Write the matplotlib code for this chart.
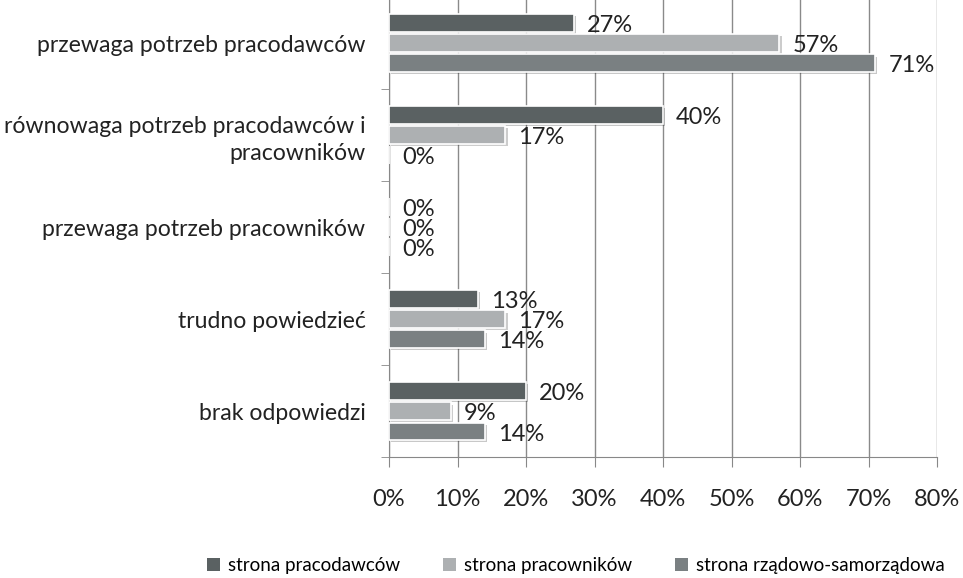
import numpy as np
import matplotlib.pyplot as plt
import matplotlib.patheffects as pe

plt.rcParams['font.family'] = ['Lato', 'DejaVu Sans']

# dane
kategorie = ['przewaga potrzeb pracodawców',
             'równowaga potrzeb pracodawców i\npracowników',
             'przewaga potrzeb pracowników',
             'trudno powiedzieć',
             'brak odpowiedzi']
serie = ['strona pracodawców', 'strona pracowników', 'strona rządowo-samorządowa']
pracodawcy = [27, 40, 0, 13, 20]
pracownicy = [57, 17, 0, 17, 9]
rzadowo = [71, 0, 0, 14, 14]
kolory = ['#5a6162', '#adb0b2', '#7a8082']

fig = plt.figure(figsize=(9.63, 5.78), dpi=100)
ax = fig.add_axes([0.404, 0.209, 0.569, 0.796])

n = len(kategorie)
y = np.arange(n)
h = 0.19
offs = [-0.218, 0, 0.218]
for vals, off, c, lab in zip([pracodawcy, pracownicy, rzadowo], offs, kolory, serie):
    bars = ax.barh(y + off, vals, height=h, color=c, edgecolor='white', linewidth=1.2,
                   label=lab, zorder=3)
    for b in bars:
        b.set_path_effects([pe.SimplePatchShadow(offset=(1.5, -1.5), alpha=0.25), pe.Normal()])
    for yi, v in zip(y + off, vals):
        ax.text(v + 1.9, yi + 0.03, f'{v}%', va='center', ha='left', fontsize=17,
                color='#222222', zorder=4)

ax.set_ylim(n - 0.5, -0.5)
ax.set_xlim(0, 80)
ax.set_xticks(np.arange(0, 81, 10))
ax.set_xticklabels([f'{t}%' for t in range(0, 81, 10)], fontsize=17, color='#222222')
ax.set_yticks(y)
ax.set_yticklabels(kategorie, fontsize=16.6, color='#222222', ha='right', linespacing=1.35)
ax.set_yticks(np.arange(-0.5, n, 1), minor=True)
ax.tick_params(axis='y', which='major', length=0, pad=17)
ax.tick_params(axis='y', which='minor', length=6, color='#888888', direction='out')
ax.tick_params(axis='x', length=7, color='#888888', direction='out', pad=16)
ax.grid(axis='x', color='#8a8a8a', linewidth=1, zorder=0)
for s in ['top', 'right']:
    ax.spines[s].set_visible(False)
ax.spines['left'].set_color('#888888')
ax.spines['bottom'].set_color('#888888')

leg = fig.legend(loc='lower center', bbox_to_anchor=(0.598, -0.022), ncol=3, frameon=False,
                 fontsize=13.5, handlelength=0.7, handleheight=0.7, handletextpad=0.4,
                 columnspacing=2.3)
for p in leg.get_patches():
    p.set_edgecolor('none')
    p.set_path_effects([])

fig.savefig('out.png', dpi=100)
